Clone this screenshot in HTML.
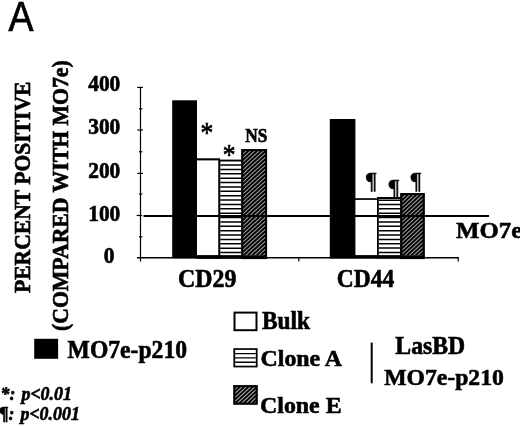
<!DOCTYPE html>
<html lang="en">
<head>
<meta charset="utf-8">
<title>Figure A</title>
<style>
html,body{margin:0;padding:0;background:#fff;}
body{width:520px;height:426px;overflow:hidden;position:relative;}
svg{position:absolute;left:0;top:0;display:block;}
text{font-family:"Liberation Serif","Times New Roman",serif;font-weight:bold;fill:#000;stroke:#000;stroke-width:0.6px;}
.sans{font-family:"Liberation Sans",Arial,sans-serif;font-weight:normal;stroke-width:0.7px;}
.bi{font-style:italic;}
.rg{font-weight:normal;}
</style>
</head>
<body>
<svg width="520" height="426" viewBox="0 0 520 426">
<rect x="0" y="0" width="520" height="426" fill="#fff"/>

<!-- panel label -->
<text class="sans" transform="translate(8.4,30.9) scale(0.96,1.07)" font-size="39">A</text>
<!-- y axis titles -->
<text transform="translate(29.7,293.0) rotate(-90) scale(1.01,1.1)" font-size="21.4">PERCENT POSITIVE</text>
<text transform="translate(67.5,331) rotate(-90) scale(1.016,1.1)" font-size="21.4">(COMPARED WITH MO7e)</text>
<!-- tick labels -->
<text transform="translate(88.2,91.3) scale(1,1.05)" font-size="21.4">400</text>
<text transform="translate(88.2,134.3) scale(1,1.05)" font-size="21.4">300</text>
<text transform="translate(88.2,177.5) scale(1,1.05)" font-size="21.4">200</text>
<text transform="translate(88.2,220.5) scale(1,1.05)" font-size="21.4">100</text>
<text transform="translate(103.8,262.8) scale(1,1.05)" font-size="21.4">0</text>
<!-- bars CD29 -->
<rect x="172.2" y="100.3" width="24.8" height="158" fill="#000"/>
<rect x="196.5" y="158.3" width="23.5" height="100.5" fill="#000"/>
<rect x="197" y="160.4" width="21.5" height="94.9" fill="#fff"/>
<rect x="218.5" y="159.6" width="23.5" height="99" fill="#000"/>
<rect x="220.30" y="161.50" width="21.40" height="93.90" fill="#fff"/>
<path d="M220.30,164.32 h21.40 v1.50 h-21.40 z M220.30,168.70 h21.40 v1.50 h-21.40 z M220.30,173.07 h21.40 v1.50 h-21.40 z M220.30,177.45 h21.40 v1.50 h-21.40 z M220.30,181.83 h21.40 v1.50 h-21.40 z M220.30,186.21 h21.40 v1.50 h-21.40 z M220.30,190.58 h21.40 v1.50 h-21.40 z M220.30,194.96 h21.40 v1.50 h-21.40 z M220.30,199.34 h21.40 v1.50 h-21.40 z M220.30,203.71 h21.40 v1.50 h-21.40 z M220.30,208.09 h21.40 v1.50 h-21.40 z M220.30,212.47 h21.40 v1.50 h-21.40 z M220.30,216.84 h21.40 v1.50 h-21.40 z M220.30,221.22 h21.40 v1.50 h-21.40 z M220.30,225.60 h21.40 v1.50 h-21.40 z M220.30,229.98 h21.40 v1.50 h-21.40 z M220.30,234.35 h21.40 v1.50 h-21.40 z M220.30,238.73 h21.40 v1.50 h-21.40 z M220.30,243.11 h21.40 v1.50 h-21.40 z M220.30,247.48 h21.40 v1.50 h-21.40 z M220.30,251.86 h21.40 v1.50 h-21.40 z" fill="#000"/>
<clipPath id="c1"><rect x="241.40" y="149.20" width="25.60" height="106.40"/></clipPath>
<rect x="241.40" y="149.20" width="25.60" height="106.40" fill="#000"/>
<path clip-path="url(#c1)" d="M237.36,147.20 L118.68,257.60 M241.66,147.20 L122.98,257.60 M245.96,147.20 L127.28,257.60 M250.26,147.20 L131.58,257.60 M254.56,147.20 L135.88,257.60 M258.86,147.20 L140.18,257.60 M263.16,147.20 L144.48,257.60 M267.46,147.20 L148.78,257.60 M271.76,147.20 L153.08,257.60 M276.06,147.20 L157.38,257.60 M280.36,147.20 L161.68,257.60 M284.66,147.20 L165.98,257.60 M288.96,147.20 L170.28,257.60 M293.26,147.20 L174.58,257.60 M297.56,147.20 L178.88,257.60 M301.86,147.20 L183.18,257.60 M306.16,147.20 L187.48,257.60 M310.46,147.20 L191.78,257.60 M314.76,147.20 L196.08,257.60 M319.06,147.20 L200.38,257.60 M323.36,147.20 L204.68,257.60 M327.66,147.20 L208.98,257.60 M331.96,147.20 L213.28,257.60 M336.26,147.20 L217.58,257.60 M340.56,147.20 L221.88,257.60 M344.86,147.20 L226.18,257.60 M349.16,147.20 L230.48,257.60 M353.46,147.20 L234.78,257.60 M357.76,147.20 L239.08,257.60 M362.06,147.20 L243.38,257.60 M366.36,147.20 L247.68,257.60 M370.66,147.20 L251.98,257.60 M374.96,147.20 L256.28,257.60 M379.26,147.20 L260.58,257.60 M383.56,147.20 L264.88,257.60 M387.86,147.20 L269.18,257.60" stroke="#9a9a9a" stroke-width="1.10" fill="none"/>
<rect x="242.3" y="150.1" width="23.8" height="108" fill="none" stroke="#000" stroke-width="2"/>
<!-- bars CD44 -->
<rect x="329.8" y="119" width="25.6" height="139.5" fill="#000"/>
<rect x="355" y="198.2" width="23" height="60" fill="#000"/>
<rect x="355.4" y="199.9" width="21.8" height="55.4" fill="#fff"/>
<rect x="377" y="197" width="24" height="61.5" fill="#000"/>
<rect x="378.80" y="199.00" width="21.60" height="56.40" fill="#fff"/>
<path d="M378.80,199.39 h21.60 v1.50 h-21.60 z M378.80,203.75 h21.60 v1.50 h-21.60 z M378.80,208.11 h21.60 v1.50 h-21.60 z M378.80,212.47 h21.60 v1.50 h-21.60 z M378.80,216.83 h21.60 v1.50 h-21.60 z M378.80,221.19 h21.60 v1.50 h-21.60 z M378.80,225.55 h21.60 v1.50 h-21.60 z M378.80,229.91 h21.60 v1.50 h-21.60 z M378.80,234.27 h21.60 v1.50 h-21.60 z M378.80,238.63 h21.60 v1.50 h-21.60 z M378.80,242.99 h21.60 v1.50 h-21.60 z M378.80,247.35 h21.60 v1.50 h-21.60 z M378.80,251.71 h21.60 v1.50 h-21.60 z" fill="#000"/>
<clipPath id="c2"><rect x="400.40" y="193.20" width="24.20" height="62.40"/></clipPath>
<rect x="400.40" y="193.20" width="24.20" height="62.40" fill="#000"/>
<path clip-path="url(#c2)" d="M396.46,191.20 L325.08,257.60 M400.76,191.20 L329.38,257.60 M405.06,191.20 L333.68,257.60 M409.36,191.20 L337.98,257.60 M413.66,191.20 L342.28,257.60 M417.96,191.20 L346.58,257.60 M422.26,191.20 L350.88,257.60 M426.56,191.20 L355.18,257.60 M430.86,191.20 L359.48,257.60 M435.16,191.20 L363.78,257.60 M439.46,191.20 L368.08,257.60 M443.76,191.20 L372.38,257.60 M448.06,191.20 L376.68,257.60 M452.36,191.20 L380.98,257.60 M456.66,191.20 L385.28,257.60 M460.96,191.20 L389.58,257.60 M465.26,191.20 L393.88,257.60 M469.56,191.20 L398.18,257.60 M473.86,191.20 L402.48,257.60 M478.16,191.20 L406.78,257.60 M482.46,191.20 L411.08,257.60 M486.76,191.20 L415.38,257.60 M491.06,191.20 L419.68,257.60 M495.36,191.20 L423.98,257.60 M499.66,191.20 L428.28,257.60" stroke="#9a9a9a" stroke-width="1.10" fill="none"/>
<rect x="401.3" y="194.1" width="22.4" height="64" fill="none" stroke="#000" stroke-width="2"/>
<rect x="196.5" y="255.3" width="70.5" height="3" fill="#000"/>
<rect x="355" y="255.3" width="69.6" height="3" fill="#000"/>
<!-- axes -->
<g stroke="#000" stroke-width="1.2" fill="none">
<line x1="140.5" y1="87" x2="140.5" y2="261.6"/>
<line x1="137.2" y1="87.4" x2="143" y2="87.4"/>
<line x1="137.2" y1="130" x2="143" y2="130"/>
<line x1="137.2" y1="173.4" x2="143" y2="173.4"/>
<line x1="136.6" y1="215.5" x2="142.2" y2="215.5"/>
<line x1="139" y1="108.8" x2="142.4" y2="108.8"/>
<line x1="139" y1="151.8" x2="142.4" y2="151.8"/>
<line x1="139" y1="194" x2="142.4" y2="194"/>
<line x1="139" y1="236.8" x2="142.4" y2="236.8"/>
<line x1="137" y1="257.8" x2="458.8" y2="257.8" stroke-width="1.5"/>
<line x1="458.2" y1="257.5" x2="458.2" y2="261.5"/>
<line x1="298.8" y1="257.5" x2="298.8" y2="261.6"/>
<line x1="143.5" y1="215.9" x2="489" y2="215.9" stroke-width="2"/>
</g>

<!-- annotations -->
<text class="rg" transform="translate(200.6,142.0) scale(1.06,1.22)" font-size="24">*</text>
<text class="rg" transform="translate(222.8,163.5) scale(1.06,1.22)" font-size="24">*</text>
<text transform="translate(245.2,141.9) scale(1.02,1.08)" font-size="17">NS</text>
<text class="rg" transform="translate(366.1,188.3) scale(1.1,1.07)" font-size="21">¶</text>
<text class="rg" transform="translate(388.7,194.6) scale(1.1,1.08)" font-size="21">¶</text>
<text class="rg" transform="translate(410.8,188.3) scale(1.1,1.07)" font-size="21">¶</text>
<!-- category labels -->
<text transform="translate(178.0,286.9) scale(0.995,1.05)" font-size="24">CD29</text>
<text transform="translate(336.7,286.9) scale(0.98,1.04)" font-size="24">CD44</text>
<text transform="translate(456.0,237.7) scale(1.035,0.93)" font-size="24">MO7e</text>
<!-- legend -->
<rect x="34.2" y="338.8" width="23.9" height="20" fill="#000"/>
<text transform="translate(67.6,357.8) scale(0.985,1.02)" font-size="24">MO7e-p210</text>
<rect x="234.5" y="312.6" width="22.0" height="17.6" fill="#fff" stroke="#000" stroke-width="2"/>
<text transform="translate(262.0,329.2) scale(0.975,1.02)" font-size="24">Bulk</text>
<rect x="233.4" y="348.2" width="24.2" height="19.2" fill="#000"/>
<rect x="235.20" y="349.90" width="20.60" height="15.80" fill="#fff"/>
<path d="M235.20,352.90 h20.60 v1.40 h-20.60 z M235.20,357.20 h20.60 v1.40 h-20.60 z M235.20,361.50 h20.60 v1.40 h-20.60 z" fill="#000"/>
<text transform="translate(260.5,366.4) scale(0.995,1.0)" font-size="24">Clone A</text>
<clipPath id="c3"><rect x="233.40" y="385.20" width="24.20" height="19.40"/></clipPath>
<rect x="233.40" y="385.20" width="24.20" height="19.40" fill="#000"/>
<path clip-path="url(#c3)" d="M228.76,383.20 L203.61,406.60 M233.06,383.20 L207.91,406.60 M237.36,383.20 L212.21,406.60 M241.66,383.20 L216.51,406.60 M245.96,383.20 L220.81,406.60 M250.26,383.20 L225.11,406.60 M254.56,383.20 L229.41,406.60 M258.86,383.20 L233.71,406.60 M263.16,383.20 L238.01,406.60 M267.46,383.20 L242.31,406.60 M271.76,383.20 L246.61,406.60 M276.06,383.20 L250.91,406.60 M280.36,383.20 L255.21,406.60 M284.66,383.20 L259.51,406.60 M288.96,383.20 L263.81,406.60" stroke="#a8a8a8" stroke-width="1.10" fill="none"/>
<rect x="234.4" y="386.2" width="22.2" height="17.4" fill="none" stroke="#000" stroke-width="2"/>
<text transform="translate(260,412.6) scale(0.995,1.0)" font-size="24">Clone E</text>
<line x1="371.7" y1="342.5" x2="371.7" y2="383.3" stroke="#000" stroke-width="2"/>
<text transform="translate(395.3,353.8) scale(0.99,1.01)" font-size="24">LasBD</text>
<text transform="translate(384.2,384.6) scale(0.987,1.0)" font-size="24">MO7e-p210</text>
<!-- footnotes -->
<text class="bi" transform="translate(0.6,400) scale(1,1.1)" font-size="17.9" word-spacing="1.5">*: p&lt;0.01</text>
<text class="bi" transform="translate(-0.4,420.2) scale(1,1.1)" font-size="17.9" word-spacing="1.5">¶: p&lt;0.001</text>
</svg>
</body>
</html>
